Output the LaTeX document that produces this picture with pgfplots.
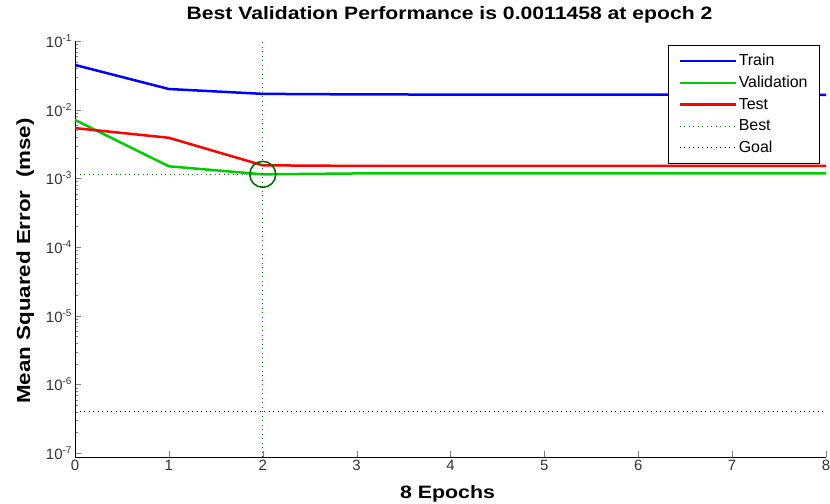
\documentclass[border=0pt]{standalone}
\usepackage{pgfplots}
\pgfplotsset{compat=1.18}
\usepackage{fontspec}
\setmainfont{Liberation Sans}
\definecolor{mblue}{RGB}{0,0,255}
\definecolor{mgreen}{RGB}{0,204,0}
\definecolor{mred}{RGB}{255,0,0}
\definecolor{dgreen}{RGB}{0,110,0}
\newcommand{\pw}[1]{10\raisebox{6bp}{\fontsize{10}{10}\selectfont #1}}
\begin{document}
\begin{tikzpicture}
\path[use as bounding box] (0,0) rectangle (830bp,504bp);
\begin{axis}[
  at={(75bp,47bp)}, anchor=south west,
  scale only axis, width=751bp, height=416bp,
  xmin=0, xmax=8, ymode=log, ymin=8.8e-8, ymax=1e-1,
  axis x line*=bottom, axis y line*=left,
  axis line style={line width=1bp, -},
  tick align=inside,
  xtick={0,1,2,3,4,5,6,7,8},
  ytick={1e-7,1e-6,1e-5,1e-4,1e-3,1e-2,1e-1},
  yticklabels={\pw{-7},\pw{-6},\pw{-5},\pw{-4},\pw{-3},\pw{-2},\pw{-1}},
  /pgf/number format/assume math mode=true,
  ticklabel style={font=\fontsize{15}{17}\selectfont, text=black!80},
  major tick length=6bp, minor tick length=3bp,
  title={\scalebox{1.18}[1]{\bfseries Best Validation Performance is 0.0011458 at epoch 2}},
  title style={font=\fontsize{18}{20}\selectfont, at={(axis description cs:0.4987,1.0385)}, anchor=base},
  xlabel={\scalebox{1.19}[1]{\bfseries 8 Epochs}},
  ylabel={\scalebox{1.18}[1]{\bfseries Mean Squared Error~~(mse)}},
  xlabel style={font=\fontsize{18}{20}\selectfont, at={(axis description cs:0.496,-0.0986)}, anchor=base},
  ylabel style={font=\fontsize{19}{21}\selectfont, at={(axis description cs:-0.0599,0.471)}, anchor=base},
  legend style={at={(1,1)}, anchor=north east, xshift=-6bp, yshift=-4bp,
    draw=black, line width=0.8bp, font=\fontsize{16}{18}\selectfont,
    row sep=5bp, inner xsep=10bp, inner ysep=7bp},
  legend cell align=left,
  legend image code/.code={\draw[#1] (0cm,0cm) -- (56bp,0cm);},
  clip=false,
]
\addplot[mblue, line width=2.5bp] coordinates {(0,0.0448) (1,0.0200) (2,0.0170) (3,0.0167) (4,0.0166) (5,0.0166) (6,0.0166) (7,0.0166) (8,0.0165)};
\addlegendentry{Train}
\addplot[mgreen, line width=2.5bp] coordinates {(0,0.0071) (1,0.00150) (2,0.0011458) (3,0.00118) (4,0.00118) (5,0.00118) (6,0.00118) (7,0.00118) (8,0.00118)};
\addlegendentry{Validation}
\addplot[mred, line width=2.5bp] coordinates {(0,0.0054) (1,0.0039) (2,0.00155) (3,0.00152) (4,0.00152) (5,0.00152) (6,0.00152) (7,0.00152) (8,0.00152)};
\addlegendentry{Test}
\addplot[mgreen!60!black, line width=0.9bp, dash pattern=on 1bp off 3.5bp] coordinates {(2,8.8e-8) (2,1e-1)};
\addlegendentry{Best}
\addplot[black, line width=0.9bp, dash pattern=on 1bp off 3.5bp] coordinates {(0,4e-7) (8,4e-7)};
\addlegendentry{Goal}
\addplot[mgreen!60!black, line width=0.9bp, dash pattern=on 1bp off 3.5bp, forget plot] coordinates {(0,0.0011458) (2,0.0011458)};
\addplot[dgreen, line width=1.6bp, only marks, mark=o, mark size=13bp, forget plot] coordinates {(2,0.0011458)};
\end{axis}
\end{tikzpicture}
\end{document}
